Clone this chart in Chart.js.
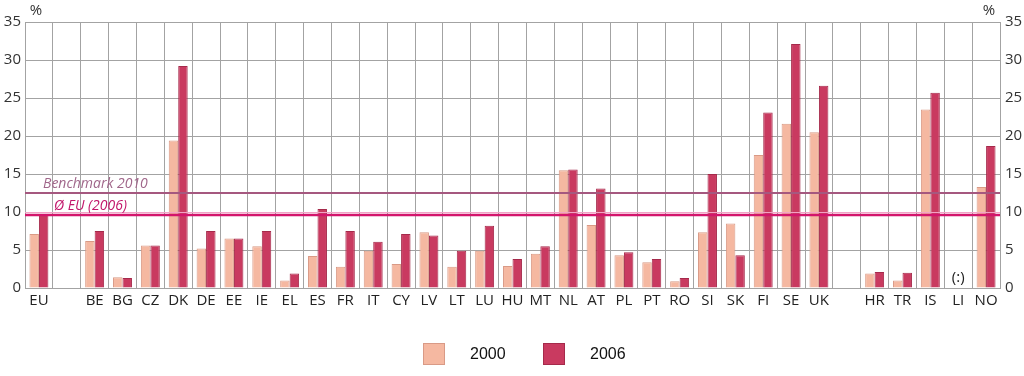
<!DOCTYPE html>
<html>
<head>
<meta charset="utf-8">
<script src="https://cdn.jsdelivr.net/npm/chart.js@4"></script>
<style>
  html, body { margin: 0; padding: 0; background: #fff; }
  #wrap { width: 1024px; height: 376px; }
</style>
</head>
<body>
<div id="wrap"><canvas id="c" width="1024" height="376"></canvas></div>
<script>
// categories (blank slots are gaps in the original)
const categories = ['EU', '', 'BE', 'BG', 'CZ', 'DK', 'DE', 'EE', 'IE', 'EL', 'ES', 'FR', 'IT', 'CY', 'LV', 'LT', 'LU', 'HU', 'MT', 'NL', 'AT', 'PL', 'PT', 'RO', 'SI', 'SK', 'FI', 'SE', 'UK', '', 'HR', 'TR', 'IS', 'LI', 'NO'];
const values2000 = [7.1, null, 6.2, 1.4, 5.6, 19.4, 5.2, 6.5, 5.5, 1.0, 4.2, 2.8, 4.9, 3.15, 7.35, 2.8, 4.9, 2.9, 4.5, 15.5, 8.3, 4.3, 3.4, 0.9, 7.35, 8.5, 17.5, 21.6, 20.5, null, 1.9, 1.0, 23.5, null, 13.3];
const values2006 = [9.6, null, 7.5, 1.3, 5.6, 29.2, 7.5, 6.5, 7.5, 1.9, 10.4, 7.5, 6.1, 7.1, 6.9, 4.9, 8.2, 3.8, 5.5, 15.6, 13.1, 4.7, 3.8, 1.3, 15.0, 4.3, 23.1, 32.1, 26.6, null, 2.1, 2.0, 25.7, null, 18.7];
const yTicks = [0, 5, 10, 15, 20, 25, 30, 35];
const benchmark2010 = 12.5;
const euAvg2006 = 9.6;
const notAvailable = 'LI';

const tickFont = { family: 'Open Sans', size: 15 };

// lines, notes, % labels and legend
const extras = {
  id: 'extras',
  afterDatasetsDraw(chart) {
    const { ctx, chartArea: a, scales: { x, y } } = chart;
    ctx.save();
    const yb = y.getPixelForValue(benchmark2010);
    ctx.strokeStyle = '#a5587f';
    ctx.lineWidth = 2;
    ctx.beginPath(); ctx.moveTo(a.left, yb); ctx.lineTo(a.right, yb); ctx.stroke();
    const ye = y.getPixelForValue(euAvg2006);
    ctx.strokeStyle = '#f3a5c8';
    ctx.lineWidth = 1;
    ctx.beginPath(); ctx.moveTo(a.left, ye - 2.5); ctx.lineTo(a.right, ye - 2.5); ctx.stroke();
    ctx.strokeStyle = '#d3156c';
    ctx.lineWidth = 2.5;
    ctx.beginPath(); ctx.moveTo(a.left, ye); ctx.lineTo(a.right, ye); ctx.stroke();

    ctx.font = 'italic 14px "Open Sans"';
    ctx.textAlign = 'left';
    ctx.textBaseline = 'alphabetic';
    ctx.fillStyle = '#a0668a';
    ctx.fillText('Benchmark 2010', 43, yb - 5);
    ctx.fillStyle = '#c2166b';
    ctx.fillText('Ø EU (2006)', 54, ye - 5);

    // not available
    const li = categories.indexOf(notAvailable);
    ctx.fillStyle = '#222';
    ctx.font = '15px "Open Sans"';
    ctx.textAlign = 'center';
    ctx.fillText('(:)', x.getPixelForValue(li), y.getPixelForValue(0) - 6);

    // % units
    ctx.font = '15px "Open Sans"';
    ctx.fillStyle = '#333';
    ctx.fillText('%', 36, 15);
    ctx.fillText('%', 989, 15);

    // legend
    const items = [
      { text: '2000', fill: '#f5b8a1', stroke: '#d99a86', x: 423 },
      { text: '2006', fill: '#c93a60', stroke: '#a52a4b', x: 543 },
    ];
    ctx.font = '16px "Liberation Sans"';
    ctx.textAlign = 'left';
    ctx.textBaseline = 'middle';
    items.forEach((it) => {
      ctx.fillStyle = it.fill;
      ctx.fillRect(it.x, 343, 22, 22);
      ctx.strokeStyle = it.stroke;
      ctx.lineWidth = 1;
      ctx.strokeRect(it.x + 0.5, 343.5, 21, 21);
      ctx.fillStyle = '#111';
      ctx.fillText(it.text, it.x + 47, 355);
    });
    ctx.restore();
  },
};

new Chart(document.getElementById('c'), {
  type: 'bar',
  data: {
    labels: categories,
    datasets: [
      {
        label: '2000',
        data: values2000,
        backgroundColor: '#f5b8a1',
        borderColor: '#d99a86',
        borderWidth: 1,
        barPercentage: 1,
        categoryPercentage: 0.68,
      },
      {
        label: '2006',
        data: values2006,
        backgroundColor: '#c93a60',
        borderColor: '#a52a4b',
        borderWidth: 1,
        barPercentage: 1,
        categoryPercentage: 0.68,
      },
    ],
  },
  options: {
    responsive: false,
    animation: false,
    layout: { padding: { top: 22, bottom: 58, left: 0, right: 0 } },
    plugins: { legend: { display: false }, tooltip: { enabled: false } },
    scales: {
      x: {
        grid: { color: '#a3a3a3', lineWidth: 1, drawTicks: false, offset: true },
        border: { color: '#a3a3a3' },
        ticks: { color: '#222', font: tickFont, padding: 4, autoSkip: false, maxRotation: 0 },
        afterFit: (s) => { s.height = 30; },
      },
      y: {
        min: 0, max: 35,
        afterBuildTicks: (s) => { s.ticks = yTicks.map((v) => ({ value: v })); },
        grid: { color: '#a3a3a3', lineWidth: 1, drawTicks: false },
        border: { color: '#a3a3a3' },
        ticks: { color: '#333', font: tickFont, padding: 4 },
        afterFit: (s) => { s.width = 25; },
      },
      y2: {
        position: 'right',
        min: 0, max: 35,
        afterBuildTicks: (s) => { s.ticks = yTicks.map((v) => ({ value: v })); },
        grid: { display: false, drawTicks: false },
        border: { color: '#a3a3a3' },
        ticks: { color: '#333', font: tickFont, padding: 5 },
        afterFit: (s) => { s.width = 24; },
      },
    },
  },
  plugins: [extras],
});
</script>
</body>
</html>
